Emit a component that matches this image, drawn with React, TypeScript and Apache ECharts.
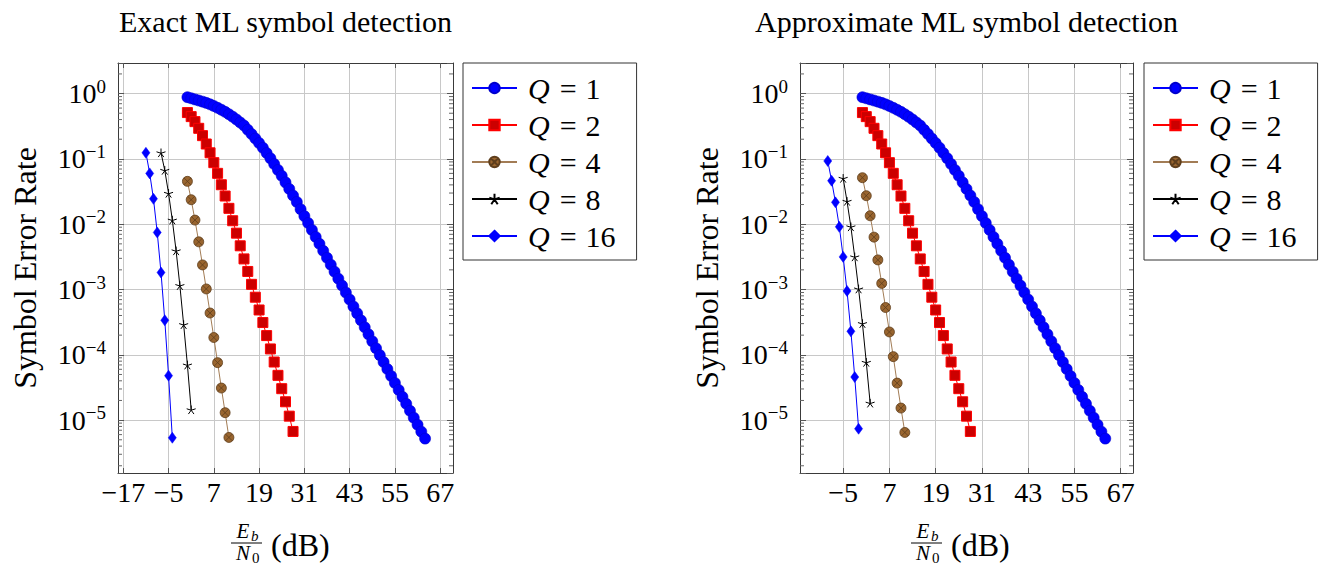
import React, { useEffect, useRef } from 'react';
import * as echarts from 'echarts';

const FONT = '"Liberation Serif", "DejaVu Serif", serif';

const TITLES = ['Exact ML symbol detection', 'Approximate ML symbol detection'];
const Y_NAME = 'Symbol Error Rate';
const X_TICKS = [-17, -5, 7, 19, 31, 43, 55, 67];
const SERIES_NAMES = ['Q = 1', 'Q = 2', 'Q = 4', 'Q = 8', 'Q = 16'];

// Q = 1 (same in both panels)
const Q1_X = [0, 1, 2, 3, 4, 5, 6, 7, 8, 9, 10, 11, 12, 13, 14, 15, 16, 17, 18, 19, 20, 21, 22, 23, 24, 25, 26, 27, 28, 29, 30, 31,
  32, 33, 34, 35, 36, 37, 38, 39, 40, 41, 42, 43, 44, 45, 46, 47, 48, 49, 50, 51, 52, 53, 54, 55, 56, 57, 58, 59, 60, 61, 62, 63];
const Q1_Y = [0.881, 0.847, 0.815, 0.783, 0.753, 0.721, 0.684, 0.646, 0.605, 0.565,
  0.525, 0.483, 0.442, 0.401, 0.361, 0.324, 0.279, 0.240, 0.205, 0.175,
  0.148, 0.123, 0.102, 0.0832, 0.0676, 0.0550, 0.0437, 0.0347, 0.0275, 0.0219,
  0.0170, 0.0133, 0.01043, 0.00817, 0.00639, 0.00500, 0.00391, 0.00306, 0.00240, 0.001875,
  0.001467, 0.001148, 8.98e-4, 7.03e-4, 5.50e-4, 4.31e-4, 3.37e-4, 2.64e-4, 2.06e-4, 1.61e-4,
  1.26e-4, 9.89e-5, 7.74e-5, 6.05e-5, 4.74e-5, 3.71e-5, 2.90e-5, 2.27e-5, 1.78e-5, 1.39e-5,
  1.09e-5, 8.51e-6, 6.66e-6, 5.21e-6];

// Q = 2 (same in both panels)
const Q2_X = [0, 1, 2, 3, 4, 5, 6, 7, 8, 9, 10, 11, 12, 13, 14, 15, 16, 17, 18, 19, 20, 21, 22, 23, 24, 25, 26, 27, 28];
const Q2_Y = [0.512, 0.444, 0.372, 0.294, 0.227, 0.169, 0.124, 0.0875, 0.0601, 0.0402,
  0.0270, 0.0175, 0.0113, 0.00729, 0.00467, 0.00294, 0.00189, 0.00120, 7.62e-4, 4.86e-4,
  3.12e-4, 1.97e-4, 1.23e-4, 7.76e-5, 4.85e-5, 3.03e-5, 1.91e-5, 1.15e-5, 6.71e-6];

// Exact ML
const EXACT_Q4_X = [0, 1, 2, 3, 4, 5, 6, 7, 8, 9, 10, 11];
const EXACT_Q4_Y = [0.0453, 0.0237, 0.01156, 0.00537, 0.00238, 0.00102, 4.37e-4, 1.84e-4, 7.59e-5, 3.1e-5, 1.3e-5, 5.43e-6];
const EXACT_Q8_X = [-7, -6, -5, -4, -3, -2, -1, 0, 1];
const EXACT_Q8_Y = [0.124, 0.0668, 0.0297, 0.01156, 0.00391, 0.00115, 2.9e-4, 6.98e-5, 1.44e-5];
const EXACT_Q16_X = [-11, -10, -9, -8, -7, -6, -5, -4];
const EXACT_Q16_Y = [0.124, 0.060, 0.0245, 0.00748, 0.00182, 3.38e-4, 4.8e-5, 5.37e-6];

// Approximate ML
const APPROX_Q4_X = [0, 1, 2, 3, 4, 5, 6, 7, 8, 9, 10, 11];
const APPROX_Q4_Y = [0.0515, 0.0273, 0.01346, 0.00634, 0.00284, 0.00124, 5.3e-4, 2.24e-4, 9.38e-5, 3.69e-5, 1.53e-5, 6.47e-6];
const APPROX_Q8_X = [-5, -4, -3, -2, -1, 0, 1, 2];
const APPROX_Q8_Y = [0.0504, 0.0224, 0.00912, 0.00316, 0.00102, 3.01e-4, 7.67e-5, 1.82e-5];
const APPROX_Q16_X = [-9, -8, -7, -6, -5, -4, -3, -2, -1];
const APPROX_Q16_Y = [0.0929, 0.0463, 0.0216, 0.00912, 0.00316, 9.5e-4, 2.29e-4, 4.57e-5, 7.38e-6];

const Y_MIN = 1.55e-6;
const Y_MAX = 2.94;
const MINOR_MANTISSAS = [2, 3, 4, 5, 6, 7, 8, 9];
const MINOR_DECADES = [-6, -5, -4, -3, -2, -1, 0];

const PANELS = [
  { left: 118, top: 63, width: 335, height: 410, xMin: -18.4, xMax: 70.4, legendLeft: 463, yNameX: 25, fracX: 246,
    xs: [Q1_X, Q2_X, EXACT_Q4_X, EXACT_Q8_X, EXACT_Q16_X], ys: [Q1_Y, Q2_Y, EXACT_Q4_Y, EXACT_Q8_Y, EXACT_Q16_Y] },
  { left: 800, top: 63, width: 333, height: 410, xMin: -16.2, xMax: 70.2, legendLeft: 1144, yNameX: 707, fracX: 926,
    xs: [Q1_X, Q2_X, APPROX_Q4_X, APPROX_Q8_X, APPROX_Q16_X], ys: [Q1_Y, Q2_Y, APPROX_Q4_Y, APPROX_Q8_Y, APPROX_Q16_Y] },
];

const OTIMES = 'path://M10,0 A10,10 0 1,1 -10,0 A10,10 0 1,1 10,0 Z M-7.07,-7.07 L7.07,7.07 M-7.07,7.07 L7.07,-7.07';
const STAR = 'path://M0,-10 L0,0 M9.51,-3.09 L0,0 M5.88,8.09 L0,0 M-5.88,8.09 L0,0 M-9.51,-3.09 L0,0';

const STYLES = [
  { symbol: 'circle', size: 11, fill: '#0000ff', stroke: '#0000cc', bw: 0.6, line: '#0000ff', lw: 1 },
  { symbol: 'rect', size: 10, fill: '#cc0000', stroke: '#ff0000', bw: 1, line: '#ff0000', lw: 1 },
  { symbol: OTIMES, size: 10, fill: '#99652f', stroke: '#5e3e1c', bw: 0.8, line: '#a27c55', lw: 1 },
  { symbol: STAR, size: 9, fill: '#000000', stroke: '#000000', bw: 1, line: '#000000', lw: 1 },
  { symbol: 'diamond', size: [8, 11], fill: '#0000ff', stroke: '#0000ff', bw: 0.5, line: '#0000ff', lw: 1 },
];

const FRAME = '#3a3a3a';
const GRID = '#c8c8c8';
const TICK_FS = 28;

function minus(v: number): string {
  return v < 0 ? '\u2212' + Math.abs(v) : String(v);
}

function txt(text: string, x: number, y: number, font: string, align = 'center') {
  return {
    type: 'text', x, y,
    style: { text, font, fill: '#000', align, verticalAlign: 'middle', textAlign: align, textVerticalAlign: 'middle' },
  };
}

function buildOption() {
  const grid: any[] = [];
  const xAxis: any[] = [];
  const yAxis: any[] = [];
  const series: any[] = [];
  const legend: any[] = [];
  const graphic: any[] = [];

  const minorTicks: number[][] = [];
  MINOR_DECADES.forEach((d) => MINOR_MANTISSAS.forEach((m) => {
    const v = m * Math.pow(10, d);
    if (v > Y_MIN && v < Y_MAX) minorTicks.push([0, v]);
  }));

  PANELS.forEach((p, i) => {
    grid.push({ left: p.left, top: p.top, width: p.width, height: p.height, containLabel: false });
    const baseX = {
      type: 'value', gridIndex: i, min: p.xMin, max: p.xMax,
      axisLine: { show: true, onZero: false, lineStyle: { color: FRAME, width: 1 } },
      axisTick: { show: true, inside: true, length: 5, customValues: X_TICKS, lineStyle: { color: '#555', width: 1 } },
    };
    xAxis.push({
      ...baseX, position: 'bottom',
      axisLabel: { show: true, customValues: X_TICKS, formatter: (v: number) => minus(v), fontFamily: FONT, fontSize: TICK_FS, color: '#000', margin: 5 },
      splitLine: { show: true, lineStyle: { color: GRID, width: 1 } },
    });
    xAxis.push({ ...baseX, position: 'top', axisLabel: { show: false }, splitLine: { show: false } });
    const baseY = {
      type: 'log', logBase: 10, gridIndex: i, min: Y_MIN, max: Y_MAX,
      axisLine: { show: true, onZero: false, lineStyle: { color: FRAME, width: 1 } },
      axisTick: { show: true, inside: true, length: 6, lineStyle: { color: '#555', width: 1 } },
    };
    yAxis.push({
      ...baseY, position: 'left',
      axisLabel: {
        show: true, margin: 12, color: '#000',
        formatter: (v: number) => {
          const l = Math.log10(v);
          const e = Math.round(l);
          if (Math.abs(l - e) > 1e-3) return '';
          return `{b|10}{s|${minus(e)}}`;
        },
        rich: {
          b: { fontFamily: FONT, fontSize: TICK_FS, color: '#000' },
          s: { fontFamily: FONT, fontSize: 19, color: '#000', padding: [0, 0, 15, 0] },
        },
      },
      splitLine: { show: true, lineStyle: { color: GRID, width: 1 } },
    });
    yAxis.push({ ...baseY, position: 'right', axisLabel: { show: false }, splitLine: { show: false } });

    const xIdx = i * 2;
    const yIdx = i * 2;

    series.push({
      type: 'custom', name: 'minor' + i, xAxisIndex: xIdx, yAxisIndex: yIdx, silent: true, clip: false, z: 1,
      data: minorTicks,
      renderItem: (params: any, api: any) => {
        const cs = params.coordSys;
        const y = api.coord([api.value(0), api.value(1)])[1];
        return {
          type: 'group',
          children: [
            { type: 'line', shape: { x1: cs.x, y1: y, x2: cs.x + 4, y2: y }, style: { stroke: '#666', lineWidth: 1 } },
            { type: 'line', shape: { x1: cs.x + cs.width, y1: y, x2: cs.x + cs.width - 4, y2: y }, style: { stroke: '#666', lineWidth: 1 } },
          ],
        };
      },
    });

    SERIES_NAMES.forEach((name, k) => {
      const st = STYLES[k];
      const xs = p.xs[k];
      const ys = p.ys[k];
      series.push({
        type: 'line', name, xAxisIndex: xIdx, yAxisIndex: yIdx,
        data: xs.map((x, j) => [x, ys[j]]),
        symbol: st.symbol, symbolSize: st.size, symbolKeepAspect: true,
        showSymbol: true, showAllSymbol: true,
        itemStyle: { color: st.fill, borderColor: st.stroke, borderWidth: st.bw },
        lineStyle: { color: st.line, width: st.lw },
        emphasis: { disabled: true },
        z: 3 + k,
      });
    });

    legend.push({
      data: SERIES_NAMES, orient: 'vertical', left: p.legendLeft, top: p.top,
      itemWidth: 45, itemHeight: 13, itemGap: 7,
      padding: [10, 21, 9, 8],
      borderColor: '#333', borderWidth: 1, backgroundColor: '#fff',
      selectedMode: false,
      formatter: (name: string) => `{q|Q}{e|=}{n|${name.split('= ')[1]}}`,
      textStyle: {
        rich: {
          q: { fontFamily: FONT, fontStyle: 'italic', fontSize: 30, color: '#000', padding: [0, 4, 0, 6] },
          e: { fontFamily: FONT, fontSize: 30, color: '#000', padding: [0, 9, 0, 6] },
          n: { fontFamily: FONT, fontSize: 30, color: '#000' },
        },
      },
    });

    const cx = p.left + p.width / 2;
    const cy = p.top + p.height / 2;
    graphic.push(txt(TITLES[i], cx, 21, `30px ${FONT}`));
    graphic.push({
      type: 'text', x: p.yNameX, y: cy, rotation: Math.PI / 2,
      style: { text: Y_NAME, font: `32px ${FONT}`, fill: '#000', align: 'center', verticalAlign: 'middle', textAlign: 'center', textVerticalAlign: 'middle' },
    });
    const fx = p.fracX;
    graphic.push({
      type: 'group',
      children: [
        txt('E', fx - 3, 531, `italic 21px ${FONT}`),
        txt('b', fx + 5, 536, `italic 15px ${FONT}`, 'left'),
        { type: 'line', shape: { x1: fx - 15, y1: 543, x2: fx + 16, y2: 543 }, style: { stroke: '#000', lineWidth: 1 } },
        txt('N', fx - 3, 553, `italic 21px ${FONT}`),
        txt('0', fx + 6, 558, `15px ${FONT}`, 'left'),
        txt('(dB)', fx + 25, 545, `32px ${FONT}`, 'left'),
      ],
    });
  });

  return {
    animation: false,
    backgroundColor: '#ffffff',
    grid, xAxis, yAxis, series, legend, graphic,
  };
}

export default function App() {
  const ref = useRef<HTMLDivElement>(null);
  useEffect(() => {
    document.body.style.margin = '0';
    if (!ref.current) return;
    const chart = echarts.init(ref.current, undefined, { renderer: 'svg' });
    chart.setOption(buildOption() as any);
    return () => chart.dispose();
  }, []);
  return <div ref={ref} style={{ width: 1334, height: 568 }} />;
}
